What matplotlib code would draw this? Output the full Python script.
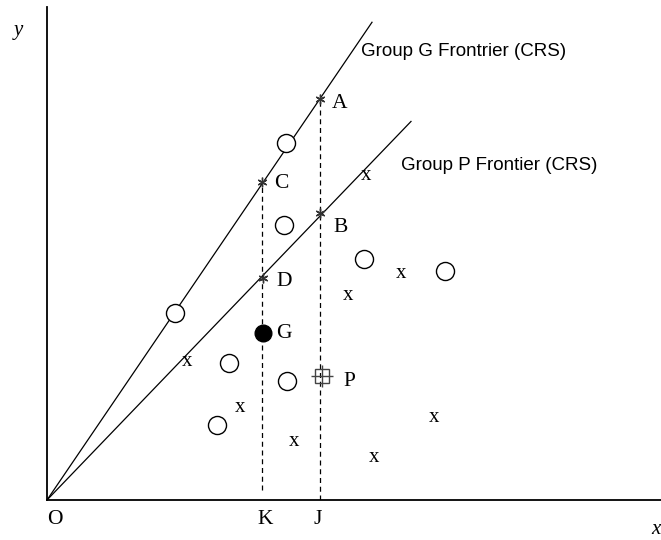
import matplotlib
matplotlib.use('Agg')
import matplotlib.pyplot as plt
import numpy as np

# values (origin at O)
circ_x = [239, 128, 237, 317, 398, 182, 240, 170]
circ_y = [357, 187, 275, 241, 229, 137, 119, 75]
g_pt = (216, 167)
p_pt = (275, 124)
cross_x = [319, 354, 301, 140, 193, 247, 327, 387]
cross_y = [325, 227, 204, 138, 93, 59, 43, 82]
star_names = ['A', 'C', 'B', 'D']
star_x = [273, 215, 273, 216]
star_y = [401, 318, 287, 222]
slope_g, end_g = 1.47, 325
slope_p, end_p = 1.04, 364
k_x, j_x = 215, 273

W, H = 661, 540
fig = plt.figure(figsize=(W / 100, H / 100), dpi=100)
ax = fig.add_axes([47 / W, 40 / H, 614 / W, 493 / H])
ax.set_xlim(0, 614)
ax.set_ylim(0, 493)
ax.set_xticks([])
ax.set_yticks([])
for s in ['top', 'right']:
    ax.spines[s].set_visible(False)
for s in ['left', 'bottom']:
    ax.spines[s].set_linewidth(1.3)

serif = 'Liberation Serif'
sans = 'Liberation Sans'

# frontiers
ax.plot([0, end_g], [0, slope_g * end_g], color='black', lw=0.9)
ax.plot([0, end_p], [0, slope_p * end_p], color='black', lw=0.9)
ax.text(314, 448, 'Group G Frontrier (CRS)', family=sans, fontsize=13.5, va='center')
ax.text(354, 334, 'Group P Frontier (CRS)', family=sans, fontsize=13.5, va='center')

# K and J lines
ax.plot([k_x, k_x], [10, star_y[1]], ls=(0, (4, 3)), color='black', lw=0.9)
ax.plot([j_x, j_x], [0, star_y[0]], ls=(0, (4, 3)), color='black', lw=0.9)

ax.plot(circ_x, circ_y, 'o', ms=13, mfc='white', mec='black', mew=1, zorder=3)
ax.plot(*g_pt, 'o', ms=12, color='black', zorder=3)
ax.plot(*p_pt, 's', ms=10, mfc='none', mec='#444444', mew=1, zorder=3)
ax.plot(*p_pt, '+', ms=16, color='#444444', mew=1, zorder=3)
for x, y in zip(cross_x, cross_y):
    ax.text(x, y, 'x', family=serif, fontsize=15, ha='center', va='center')
ax.plot(star_x, star_y, ls='none', marker=(6, 2, 0), ms=7, color='#333333', mew=1, zorder=4)

labels = {'A': (285, 397), 'C': (227, 317), 'B': (286, 273), 'D': (229, 218),
          'G': (229, 167), 'P': (296, 118)}
for name, (x, y) in labels.items():
    ax.text(x, y, name, family=serif, fontsize=15.5, va='center')

fig.text(18 / W, 1 - 30 / H, 'y', family=serif, style='italic', fontsize=15, ha='center', va='center')
fig.text(656 / W, 1 - 530 / H, 'x', family=serif, style='italic', fontsize=15, ha='center', va='center')
for name, px in [('O', 55), ('K', 265), ('J', 318)]:
    fig.text(px / W, 1 - 520 / H, name, family=serif, fontsize=15.5, ha='center', va='center')

fig.savefig('out.png', dpi=100)
